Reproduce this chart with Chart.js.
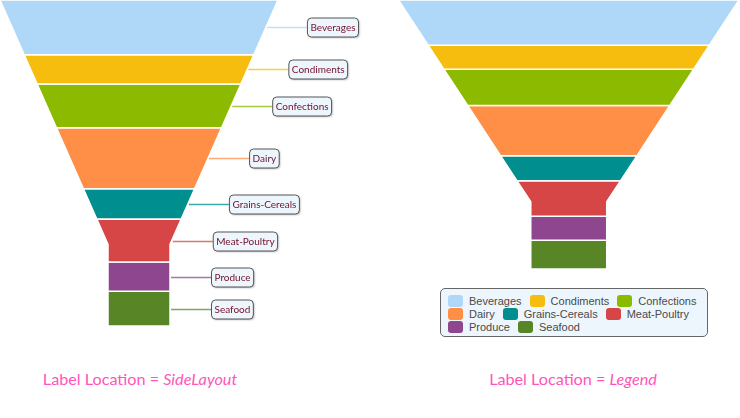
<!DOCTYPE html>
<html lang="en">
<head>
  <meta charset="UTF-8">
  <title>Funnel label locations</title>
  <script src="https://cdn.jsdelivr.net/npm/chart.js"></script>
  <style>
    body { margin: 0; background: #fff; }
    #wrap { position: relative; width: 740px; height: 418px; overflow: hidden; }
    #leftBox { position: absolute; left: 0; top: 0; width: 370px; height: 345px; }
    #rightBox { position: absolute; left: 370px; top: 0; width: 370px; height: 290px; }
    .caption {
      position: absolute; top: 369px; width: 300px; text-align: center;
      font: 16.2px Lato, sans-serif; line-height: 19px; color: #ff55bb;
    }
    #legend {
      position: absolute; left: 440px; top: 288px; width: 268px; height: 49px;
      box-sizing: border-box; border: 1px solid #666; border-radius: 5px;
      background: #eef6fd; padding: 5px 0 0 7px;
      display: flex; flex-wrap: wrap; align-content: flex-start;
      font: 11px "Liberation Sans", Arial, sans-serif; color: #4a4a4a;
    }
    #legend .item { display: flex; align-items: center; height: 13.3px; margin-right: 8px; white-space: nowrap; }
    #legend .sw { width: 15px; height: 12px; border-radius: 3px; margin-right: 6px; }
  </style>
</head>
<body>
<div id="wrap">
  <div id="leftBox"><canvas id="sideChart"></canvas></div>
  <div id="rightBox"><canvas id="legendChart"></canvas></div>
  <div id="legend"></div>
  <div class="caption" style="left:-10px">Label Location = <i>SideLayout</i></div>
  <div class="caption" style="left:423px">Label Location = <i>Legend</i></div>
</div>

<script>
  // Sales by category
  const categories = ['Beverages', 'Condiments', 'Confections', 'Dairy', 'Grains-Cereals', 'Meat-Poultry', 'Produce', 'Seafood'];
  const sales = [54.4, 29.1, 43.5, 60.6, 30.1, 42.6, 29.0, 34.6];
  const colors = ['#afd8f8', '#f6bd0f', '#8bba00', '#ff8e46', '#008e8e', '#d64646', '#8e468e', '#588526'];

  // funnel shape: neck is 22% of the top width and takes the bottom 25% of the height
  const neckWidth = 0.223;
  const neckHeight = 0.25;

  const total = sales.reduce((a, b) => a + b, 0);
  const starts = [];
  sales.reduce((acc, v) => { starts.push(acc); return acc + v; }, 0);
  const neckStart = total * (1 - neckHeight);

  function funnelWidth(v) {
    if (v >= neckStart) return neckWidth;
    return 1 - (1 - neckWidth) * v / neckStart;
  }

  // each category becomes a closed trapezoid, filled with fill:'shape'
  function segmentPoints(i) {
    const s = starts[i], e = s + sales[i];
    const pts = [{x: -funnelWidth(s) / 2, y: s}, {x: funnelWidth(s) / 2, y: s}];
    const crosses = s < neckStart && e > neckStart;
    if (crosses) pts.push({x: neckWidth / 2, y: neckStart});
    pts.push({x: funnelWidth(e) / 2, y: e}, {x: -funnelWidth(e) / 2, y: e});
    if (crosses) pts.push({x: -neckWidth / 2, y: neckStart});
    pts.push({x: -funnelWidth(s) / 2, y: s});
    return pts;
  }

  function buildDatasets() {
    return categories.map((name, i) => ({
      label: name,
      data: segmentPoints(i),
      showLine: true,
      fill: 'shape',
      backgroundColor: colors[i],
      borderColor: '#ffffff',
      borderWidth: 1.5,
      borderJoinStyle: 'miter',
      pointRadius: 0,
      tension: 0,
      clip: false
    }));
  }

  function withAlpha(hex, a) {
    const n = parseInt(hex.slice(1), 16);
    return `rgba(${n >> 16},${(n >> 8) & 255},${n & 255},${a})`;
  }

  // callout boxes to the right of each segment
  const sideLabels = {
    id: 'sideLabels',
    afterDatasetsDraw(chart) {
      const {ctx, scales: {x, y}} = chart;
      ctx.save();
      ctx.font = '10px Lato, sans-serif';
      ctx.textBaseline = 'middle';
      categories.forEach((name, i) => {
        const mid = starts[i] + sales[i] / 2;
        const px = x.getPixelForValue(funnelWidth(mid) / 2);
        const py = Math.round(y.getPixelForValue(mid)) + 0.5;
        const boxX = px + 41;
        ctx.strokeStyle = withAlpha(colors[i], 0.75);
        ctx.lineWidth = 1.5;
        ctx.beginPath();
        ctx.moveTo(px + 1, py);
        ctx.lineTo(boxX, py);
        ctx.stroke();

        const w = ctx.measureText(name).width + 6;
        ctx.shadowColor = 'rgba(0,0,0,0.3)';
        ctx.shadowBlur = 2;
        ctx.shadowOffsetX = 1;
        ctx.shadowOffsetY = 1;
        ctx.beginPath();
        ctx.roundRect(boxX + 0.5, py - 9.5, w, 19, 4);
        ctx.fillStyle = '#eef6fd';
        ctx.fill();
        ctx.shadowColor = 'transparent';
        ctx.strokeStyle = '#555';
        ctx.lineWidth = 1;
        ctx.stroke();
        ctx.fillStyle = '#70102a';
        ctx.fillText(name, boxX + 3.5, py + 0.5);
      });
      ctx.restore();
    }
  };

  // legend rendered as html from the chart's own legend items
  const htmlLegend = {
    id: 'htmlLegend',
    afterUpdate(chart) {
      const box = document.getElementById('legend');
      box.innerHTML = '';
      const items = chart.options.plugins.legend.labels.generateLabels(chart);
      items.forEach(item => {
        const el = document.createElement('span');
        el.className = 'item';
        const sw = document.createElement('span');
        sw.className = 'sw';
        sw.style.background = item.fillStyle;
        el.appendChild(sw);
        el.appendChild(document.createTextNode(item.text));
        box.appendChild(el);
      });
    }
  };

  function funnelOptions(padding) {
    return {
      responsive: true,
      maintainAspectRatio: false,
      animation: false,
      layout: { padding: padding },
      scales: {
        x: { type: 'linear', min: -0.5, max: 0.5, display: false },
        y: { type: 'linear', min: 0, max: total, reverse: true, display: false }
      },
      plugins: {
        legend: { display: false },
        tooltip: { enabled: false }
      },
      events: []
    };
  }

  new Chart(document.getElementById('sideChart'), {
    type: 'scatter',
    data: { datasets: buildDatasets() },
    options: funnelOptions({left: 0, top: 0, right: 92, bottom: 19}),
    plugins: [sideLabels]
  });

  new Chart(document.getElementById('legendChart'), {
    type: 'scatter',
    data: { datasets: buildDatasets() },
    options: funnelOptions({left: 28.5, top: 0, right: 1, bottom: 21}),
    plugins: [htmlLegend]
  });
</script>
</body>
</html>
